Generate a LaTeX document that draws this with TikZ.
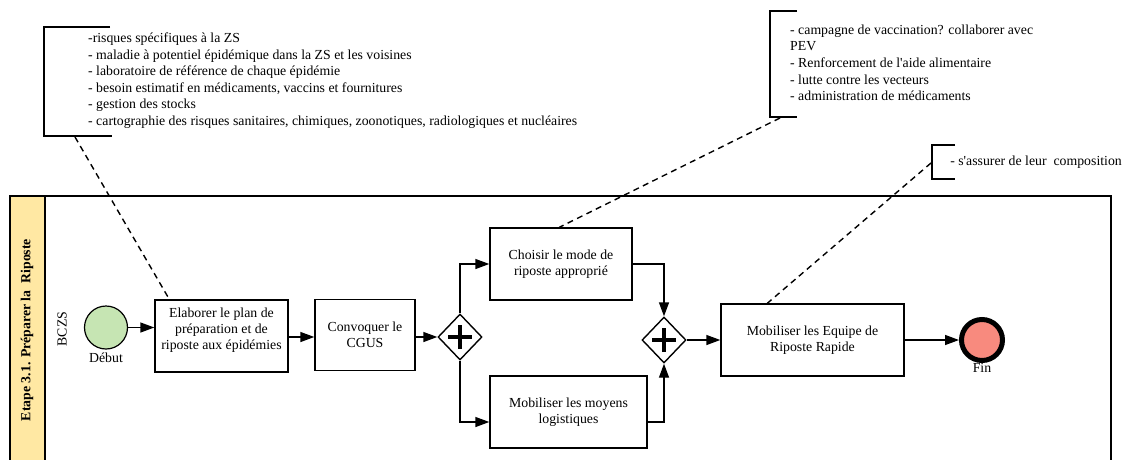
\documentclass[tikz,border=0pt]{standalone}
\usepackage{fontspec}
\setmainfont{Liberation Serif}
\usetikzlibrary{shapes.geometric,arrows.meta}
\definecolor{laneyellow}{HTML}{FFE8A3}
\definecolor{startgreen}{HTML}{C6E5B3}
\definecolor{endred}{HTML}{F88A7E}
\begin{document}
\begin{tikzpicture}[x=1pt,y=-1pt, font=\fontsize{13.8}{16}\selectfont,
  task/.style={draw, line width=1.4pt, align=center, inner sep=2pt},
  gate/.style={diamond, draw, line width=1.4pt, minimum width=44pt, minimum height=46pt, inner sep=0pt, fill=white},
  flow/.style={line width=1.4pt, -{Triangle[length=14pt,width=10pt]}},
  assoc/.style={line width=1.4pt, dash pattern=on 6pt off 4.5pt},
  bracket/.style={line width=1.4pt},
  anntext/.style={align=left, inner sep=0pt, anchor=north west, font=\fontsize{13.8}{16.6}\selectfont},
  plus/.style={line width=3.5pt}]
\useasboundingbox (0,0) rectangle (1128,459);
\clip (0,0) rectangle (1128,459);
% pool and lane
\fill[laneyellow] (10,196) rectangle (45,470);
\draw[line width=1.4pt] (10,470) -- (10,196) -- (1111,196) -- (1111,470);
\draw[line width=1.4pt] (45,196) -- (45,470);
\node[rotate=90, font=\bfseries\fontsize{13.8}{14}\selectfont] (lane) at (27,330) {Etape 3.1. Préparer la\ \ Riposte};
\node[rotate=90] (bczs) at (62,329) {BCZS};
% events
\node[circle, draw, line width=1.2pt, fill=startgreen, minimum size=43pt] (start) at (106,327.5) {};
\node (startlbl) at (106,358) {Début};
\node[circle, draw, line width=5pt, fill=endred, minimum size=41pt] (end) at (982,340) {};
\node (endlbl) at (982,368) {Fin};
% tasks
\node[task, minimum width=133pt, minimum height=72pt, text depth=14pt] (box1) at (221.5,336) {Elaborer le plan de\\préparation et de\\riposte aux épidémies};
\node[task, minimum width=100pt, minimum height=71pt] (box2) at (365,335) {Convoquer le\\CGUS};
\node[task, minimum width=142pt, minimum height=72pt] (box3) at (561,264) {Choisir le mode de\\riposte approprié};
\node[task, minimum width=157pt, minimum height=72pt] (box4) at (568.5,412) {Mobiliser les moyens\\logistiques};
\node[task, minimum width=183pt, minimum height=72pt] (box5) at (812.5,340) {Mobiliser les Equipe de\\Riposte Rapide};
% gateways
\node[gate] (gw1) at (460,337) {};
\draw[plus] ([xshift=-12pt]gw1.center) -- ([xshift=12pt]gw1.center) ([yshift=-12pt]gw1.center) -- ([yshift=12pt]gw1.center);
\node[gate] (gw2) at (664,340) {};
\draw[plus] ([xshift=-12pt]gw2.center) -- ([xshift=12pt]gw2.center) ([yshift=-12pt]gw2.center) -- ([yshift=12pt]gw2.center);
% flows
\draw[flow] (start.east) -- (start.east -| box1.west);
\draw[flow] ([yshift=-1pt]box1.east) -- ([yshift=-1pt]box1.east -| box2.west);
\draw[flow] (box2.east |- gw1.west) -- (gw1.west);
\draw[flow] (gw1.north) |- (box3.west);
\draw[flow] (gw1.south) |- ([yshift=-10pt]box4.west);
\draw[flow] (box3.east) -| (gw2.north);
\draw[flow] ([yshift=-10pt]box4.east) -| (gw2.south);
\draw[flow] (gw2.east) -- (box5.west);
\draw[flow] (box5.east) -- (end.west);
% annotations
\draw[bracket] (110,27) -- (44,27) -- (44,136) -- (112,136);
\node[anntext] (ann1) at (88,32.5) {-risques spécifiques à la ZS\\
- maladie à potentiel épidémique dans la ZS et les voisines\\
- laboratoire de référence de chaque épidémie\\
- besoin estimatif en médicaments, vaccins et fournitures\\
- gestion des stocks\\
- cartographie des risques sanitaires, chimiques, zoonotiques, radiologiques et nucléaires};
\coordinate (a1) at (75,137);
\draw[assoc] (a1) -- ([xshift=15pt]box1.north west);

\draw[bracket] (797,11) -- (770,11) -- (770,117) -- (797,117);
\node[anntext] (ann2) at (790,24.5) {- campagne de vaccination? collaborer avec\\
PEV\\
- Renforcement de l\textquotesingle aide alimentaire\\
- lutte contre les vecteurs\\
- administration de médicaments};
\coordinate (a2) at (780,118);
\draw[assoc] (a2) -- ([xshift=70pt]box3.north west);

\draw[bracket] (955,145) -- (932,145) -- (932,179) -- (955,179);
\node[anchor=east, inner sep=0pt] (ann3) at (1122,162) {- s\textquotesingle assurer de leur\ \ composition};
\coordinate (a3) at (931,163);
\draw[assoc] (a3) -- ([xshift=47pt]box5.north west);
\end{tikzpicture}
\end{document}
